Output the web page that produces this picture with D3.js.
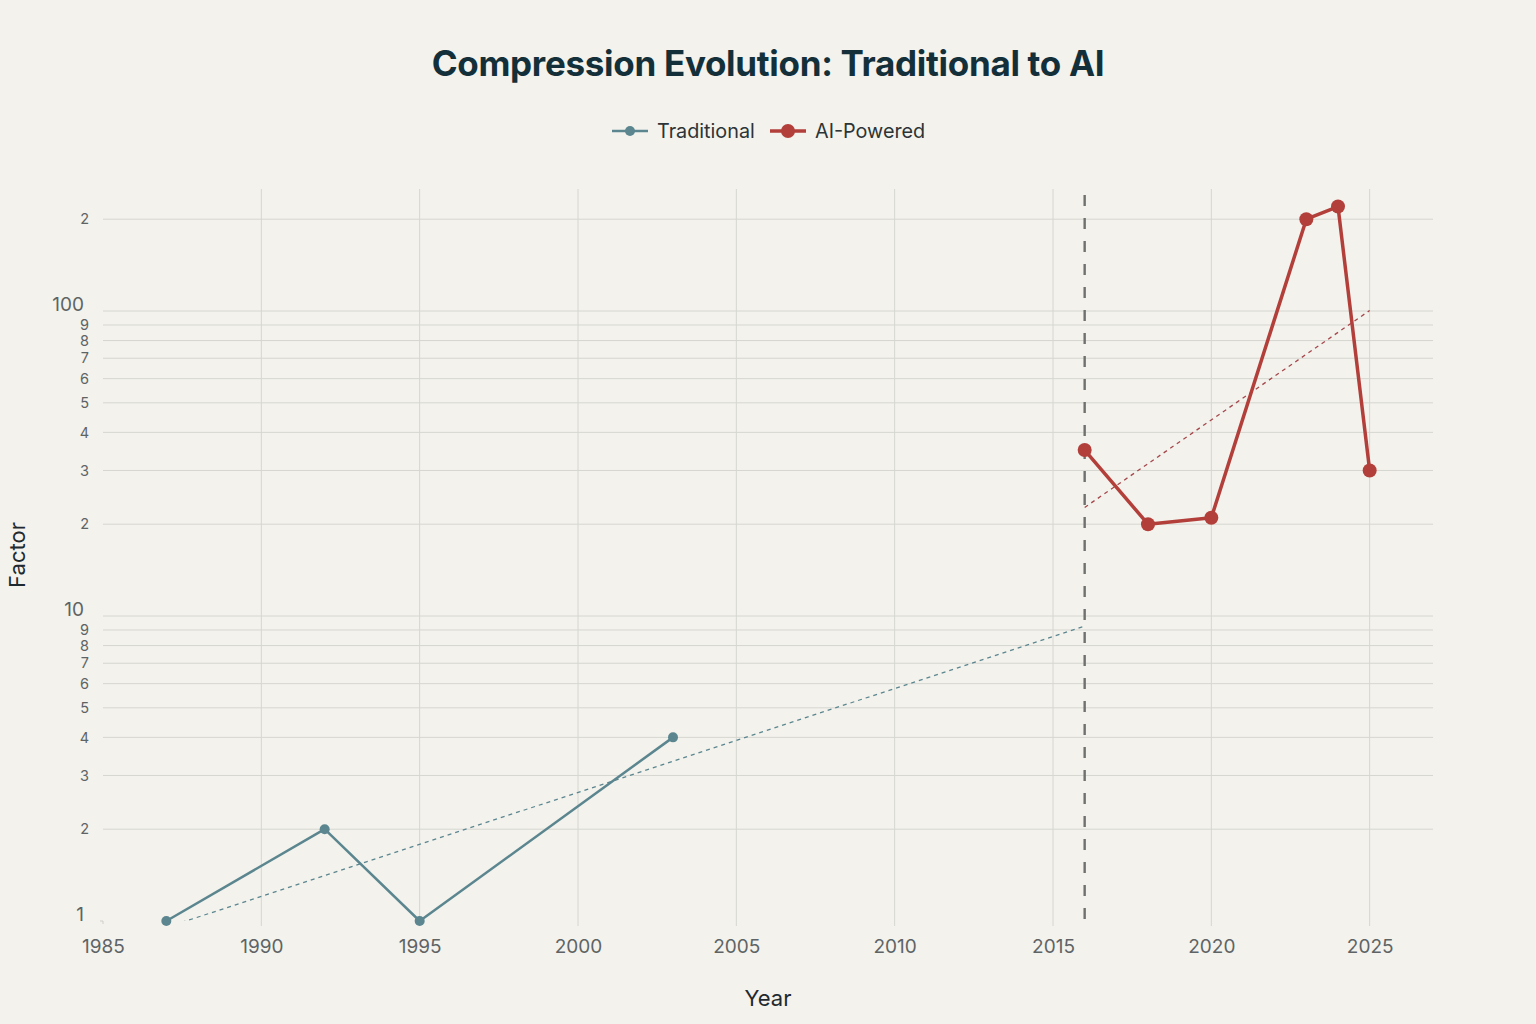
<!DOCTYPE html>
<html>
<head>
<meta charset="utf-8">
<script src="https://cdn.jsdelivr.net/npm/d3@7"></script>
<style>
  html, body { margin: 0; padding: 0; background: #f3f2ec; }
  svg { display: block; }
  text { font-family: Inter, "Noto Sans", sans-serif; }
</style>
</head>
<body>
<svg id="chart" width="1536" height="1024"></svg>
<script>
// ---- Data ----
const tradYears = [1987, 1992, 1995, 2003];
const tradFactors = [1, 2, 1, 4];
const aiYears = [2016, 2018, 2020, 2023, 2024, 2025];
const aiFactors = [35, 20, 21, 200, 220, 30];
const xTicks = [1985, 1990, 1995, 2000, 2005, 2010, 2015, 2020, 2025];
const yMajorTicks = [1, 10, 100];
const yMinorTicks = [2, 3, 4, 5, 6, 7, 8, 9, 20, 30, 40, 50, 60, 70, 80, 90, 200];
const seriesNames = ["Traditional", "AI-Powered"];
const dividerYear = 2016;
const trendTradYears = [1987, 2016];
const trendAiYears = [2016, 2025];

(function () {
// ---- Layout ----
const W = 1536, H = 1024;
const pLeft = 103, pRight = 1433, pTop = 189, pBottom = 926;
const colTrad = "#5b8690", colAi = "#b33f3b";
const colTrendAi = "#a5474c";

const svg = d3.select("#chart");
svg.append("rect").attr("width", W).attr("height", H).attr("fill", "#f3f2ec");

const x = d3.scaleLinear().domain([1985, 2027]).range([pLeft, pRight]);
const y = d3.scaleLog().domain([Math.pow(10, -5 / 305), Math.pow(10, 2.4)]).range([pBottom, pTop]);

// linear regression in log space
function fitLog(xs, ys) {
  const ly = ys.map(v => Math.log10(v));
  const mx = d3.mean(xs), my = d3.mean(ly);
  let sxy = 0, sxx = 0;
  xs.forEach((xv, i) => { sxy += (xv - mx) * (ly[i] - my); sxx += (xv - mx) * (xv - mx); });
  const b = sxy / sxx;
  return xv => Math.pow(10, my + b * (xv - mx));
}

// clip
svg.append("clipPath").attr("id", "plotclip")
  .append("rect").attr("x", pLeft).attr("y", pTop).attr("width", pRight - pLeft).attr("height", y(1) - pTop);

// grid
const grid = svg.append("g");
grid.selectAll("line.v").data(xTicks.filter(t => t !== 1985)).enter().append("line")
  .attr("x1", d => x(d)).attr("x2", d => x(d)).attr("y1", pTop).attr("y2", pBottom)
  .attr("stroke", "#d6d6d1").attr("stroke-width", 1);
grid.selectAll("line.h").data(yMajorTicks.concat(yMinorTicks).filter(t => t !== 1)).enter().append("line")
  .attr("x1", pLeft).attr("x2", pRight).attr("y1", d => y(d)).attr("y2", d => y(d))
  .attr("stroke", "#d6d6d1").attr("stroke-width", 1);

// x axis labels
const xAxis = d3.axisBottom(x).tickValues(xTicks).tickSize(0).tickFormat(d3.format("d"));
const gx = svg.append("g").attr("transform", `translate(0,${pBottom + 7})`).call(xAxis);
gx.select(".domain").remove();
gx.selectAll("text").attr("font-size", 19).attr("fill", "#5e6466").attr("dy", "0.9em");

// y axis labels
const yAxisMajor = d3.axisLeft(y).tickValues(yMajorTicks).tickSize(0).tickFormat(d3.format("d"));
const gy = svg.append("g").attr("transform", `translate(${pLeft - 16},-7)`).call(yAxisMajor);
gy.select(".domain").remove();
gy.selectAll("text").attr("font-size", 19).attr("fill", "#5e6466");
const yAxisMinor = d3.axisLeft(y).tickValues(yMinorTicks).tickSize(0)
  .tickFormat(d => String(d).charAt(0));
const gy2 = svg.append("g").attr("transform", `translate(${pLeft - 11},0)`).call(yAxisMinor);
gy2.select(".domain").remove();
gy2.selectAll("text").attr("font-size", 14.5).attr("fill", "#5e6466");

// small corner tick
svg.append("path").attr("d", `M${pLeft - 3},${y(1)} H${pLeft} V${y(1) + 3}`)
  .attr("fill", "none").attr("stroke", "#cfcfca").attr("stroke-width", 1);

const plot = svg.append("g").attr("clip-path", "url(#plotclip)");

// trend lines
const tf = fitLog(tradYears, tradFactors);
const af = fitLog(aiYears, aiFactors);
const line = d3.line().x(d => x(d[0])).y(d => y(d[1]));
plot.append("path").datum(trendTradYears.map(t => [t, tf(t)]))
  .attr("d", line).attr("fill", "none").attr("stroke", colTrad).attr("stroke-width", 1.3)
  .attr("stroke-dasharray", "4,4");
plot.append("path").datum(trendAiYears.map(t => [t, af(t)]))
  .attr("d", line).attr("fill", "none").attr("stroke", colTrendAi).attr("stroke-width", 1.3)
  .attr("stroke-dasharray", "4,4");

// divider
svg.append("line").attr("x1", x(dividerYear)).attr("x2", x(dividerYear))
  .attr("y1", y(Math.pow(10, 2.38))).attr("y2", y(1))
  .attr("stroke", "#6f716f").attr("stroke-width", 2.4).attr("stroke-dasharray", "11,12");

// series
const tradData = tradYears.map((t, i) => [t, tradFactors[i]]);
const aiData = aiYears.map((t, i) => [t, aiFactors[i]]);
svg.append("path").datum(tradData).attr("d", line).attr("fill", "none")
  .attr("stroke", colTrad).attr("stroke-width", 2.5).attr("stroke-linejoin", "round");
svg.selectAll("circle.trad").data(tradData).enter().append("circle")
  .attr("cx", d => x(d[0])).attr("cy", d => y(d[1])).attr("r", 5).attr("fill", colTrad);
svg.append("path").datum(aiData).attr("d", line).attr("fill", "none")
  .attr("stroke", colAi).attr("stroke-width", 3.5).attr("stroke-linejoin", "round");
svg.selectAll("circle.ai").data(aiData).enter().append("circle")
  .attr("cx", d => x(d[0])).attr("cy", d => y(d[1])).attr("r", 7).attr("fill", colAi);

// title
svg.append("text").attr("x", 768).attr("y", 76).attr("text-anchor", "middle")
  .attr("font-size", 35).attr("font-weight", 700).attr("fill", "#13303a")
  .attr("letter-spacing", "-0.3")
  .text("Compression Evolution: Traditional to AI");

// legend
const leg = svg.append("g");
const legItems = [
  { name: seriesNames[0], col: colTrad, x0: 612, w: 2.5, r: 5 },
  { name: seriesNames[1], col: colAi, x0: 770, w: 3.5, r: 7 }
];
legItems.forEach(it => {
  leg.append("line").attr("x1", it.x0).attr("x2", it.x0 + 36).attr("y1", 131).attr("y2", 131)
    .attr("stroke", it.col).attr("stroke-width", it.w);
  leg.append("circle").attr("cx", it.x0 + 18).attr("cy", 131).attr("r", it.r).attr("fill", it.col);
  leg.append("text").attr("x", it.x0 + 45).attr("y", 138).attr("font-size", 19.8)
    .attr("fill", "#2d3436").text(it.name);
});

// axis titles
svg.append("text").attr("x", 768).attr("y", 1006).attr("text-anchor", "middle")
  .attr("font-size", 22).attr("fill", "#1f2a30").text("Year");
svg.append("text").attr("transform", "translate(25,555) rotate(-90)").attr("text-anchor", "middle")
  .attr("font-size", 22).attr("fill", "#1f2a30").text("Factor");
})();
</script>
</body>
</html>
